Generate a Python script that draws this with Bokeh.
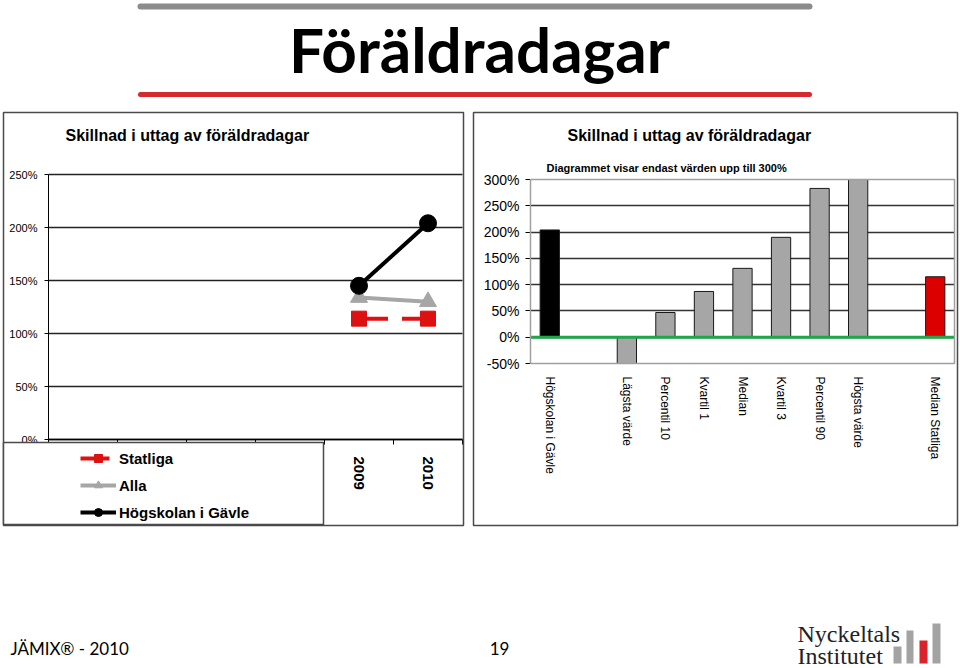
import numpy as np
from bokeh.plotting import figure
from bokeh.models import (Range1d, BoxAnnotation, Legend, LegendItem, Label,
                          NumeralTickFormatter, FixedTicker)
from bokeh.layouts import column, row
from bokeh.embed import file_html
from bokeh.resources import INLINE
from bokeh.core.properties import value

# ---------------- data ----------------
line_categories = ["", "", "", "", "2009", "2010"]
years = ["2009", "2010"]
statliga = [1.14, 1.14]
alla = [1.34, 1.30]
hogskolan = [1.45, 2.04]
left_ticks = [0.0, 0.5, 1.0, 1.5, 2.0, 2.5]

bar_categories = ["Högskolan i Gävle", "", "Lägsta värde", "Percentil 10", "Kvartil 1",
                  "Median", "Kvartil 3", "Percentil 90", "Högsta värde", "", "Median Statliga"]
bar_names = ["Högskolan i Gävle", "Lägsta värde", "Percentil 10", "Kvartil 1", "Median",
             "Kvartil 3", "Percentil 90", "Högsta värde", "Median Statliga"]
bar_values = [2.04, -0.60, 0.47, 0.87, 1.31, 1.90, 2.83, 3.00, 1.15]
right_ticks = [-0.5, 0.0, 0.5, 1.0, 1.5, 2.0, 2.5, 3.0]

# ---------------- styles ----------------
FONT = "Liberation Sans"
RED = "#dd1111"
GRAY = "#a6a6a6"
GREEN = "#1fa64a"
BOX = "#4a4a4a"
bar_colors = ["black", GRAY, GRAY, GRAY, GRAY, GRAY, GRAY, GRAY, "#dd0000"]
CANVAS = dict(left_units="canvas", right_units="canvas", top_units="canvas", bottom_units="canvas")


def axis_range(lo, hi, px_lo, px_hi, px_total):
    """Range whose values lo..hi land on pixels px_lo..px_hi of a px_total long frame."""
    k = (hi - lo) / (px_hi - px_lo)
    return Range1d(lo - px_lo * k, hi + (px_total - px_hi) * k)


def limit_grid(grid, lo, hi):
    try:
        grid.cross_bounds = (lo, hi)
    except Exception:
        pass


def blank(fig):
    fig.outline_line_color = None
    fig.grid.visible = False


# ---------------- header ----------------
hdr = figure(width=960, height=110, x_range=Range1d(0, 960), y_range=Range1d(110, 0),
             x_axis_location=None, y_axis_location=None, min_border=0,
             output_backend="svg", toolbar_location=None)
blank(hdr)
hdr.line([140, 809], [6, 6], line_width=6, line_cap="round", line_color="#8c8c8c")
hdr.line([140, 809], [94, 94], line_width=5, line_cap="round", line_color="#d42a2f")
hdr.text(x=[479], y=[48], text=["Föräldradagar"], text_font=value("Lato"),
         text_font_size="62px", text_font_style="bold", text_align="center",
         text_baseline="middle", text_color="black")

# ---------------- left line chart ----------------
LW, LH = 470, 420
n_left = len(line_categories)
lp = figure(width=LW, height=LH, min_border=0,
            x_range=axis_range(0, n_left, 48, 462, LW),
            y_range=axis_range(left_ticks[0], left_ticks[-1], 91, 356, LH),
            output_backend="svg", toolbar_location=None)
lp.outline_line_color = None
lp.xgrid.visible = False
lp.ygrid.ticker = FixedTicker(ticks=left_ticks)
lp.ygrid.grid_line_color = "#222222"
lp.ygrid.grid_line_width = 1.3
limit_grid(lp.ygrid, 0, n_left)

lp.yaxis.fixed_location = 0
lp.yaxis.bounds = (left_ticks[0], left_ticks[-1])
lp.yaxis.ticker = FixedTicker(ticks=left_ticks)
lp.yaxis.formatter = NumeralTickFormatter(format="0%")
lp.yaxis.major_label_text_font = FONT
lp.yaxis.major_label_text_font_size = "11px"
lp.yaxis.major_label_text_color = "black"
lp.yaxis.major_tick_out = 4
lp.yaxis.major_tick_in = 0
lp.yaxis.minor_tick_line_color = None
lp.yaxis.major_label_standoff = 7
lp.yaxis.axis_line_color = "black"
lp.yaxis.major_tick_line_color = "black"

left_label_pos = [i + 0.5 for i, c in enumerate(line_categories) if c]
lp.xaxis.fixed_location = left_ticks[0]
lp.xaxis.bounds = (0, n_left)
lp.xaxis.ticker = FixedTicker(ticks=left_label_pos, minor_ticks=list(range(n_left + 1)))
lp.xaxis.major_label_overrides = {i + 0.5: c for i, c in enumerate(line_categories) if c}
lp.xaxis.major_tick_line_color = None
lp.xaxis.minor_tick_out = 5
lp.xaxis.minor_tick_in = 0
lp.xaxis.minor_tick_line_color = "black"
lp.xaxis.major_label_orientation = "vertical"
lp.xaxis.major_label_text_font = FONT
lp.xaxis.major_label_text_font_size = "15px"
lp.xaxis.major_label_text_font_style = "bold"
lp.xaxis.major_label_text_color = "black"
lp.xaxis.major_label_standoff = 11
lp.xaxis.axis_line_color = "black"
lp.xaxis.axis_line_width = 1.3

year_x = [line_categories.index(y) + 0.5 for y in years]
r_stat_line = lp.line(year_x, statliga, line_color=RED, line_width=4, line_dash="29 14")
r_stat_pts = lp.scatter(year_x, statliga, marker="square", size=15, fill_color=RED, line_color=RED)
r_alla_line = lp.line(year_x, alla, line_color=GRAY, line_width=4)
r_alla_pts = lp.scatter(year_x, alla, marker="triangle", size=17, fill_color=GRAY, line_color=GRAY)
r_hig_line = lp.line(year_x, hogskolan, line_color="black", line_width=4)
r_hig_pts = lp.scatter(year_x, hogskolan, marker="circle", size=17, fill_color="black", line_color="black")

lp.add_layout(BoxAnnotation(left=3, right=463, top=2, bottom=415, **CANVAS,
                            fill_alpha=0, line_color=BOX, line_alpha=1, line_width=1.5))
lp.add_layout(BoxAnnotation(left=3, right=323, top=332, bottom=414, **CANVAS,
                            fill_color="white", fill_alpha=1, line_color=BOX, line_alpha=1,
                            line_width=1.5))
legend = Legend(items=[LegendItem(label="Statliga", renderers=[r_stat_line, r_stat_pts]),
                       LegendItem(label="Alla", renderers=[r_alla_line, r_alla_pts]),
                       LegendItem(label="Högskolan i Gävle", renderers=[r_hig_line, r_hig_pts])],
                location=(80, 8), padding=0, margin=0, spacing=7,
                glyph_width=36, glyph_height=20, label_standoff=3, label_height=20,
                label_text_font=FONT, label_text_font_size="15px", label_text_font_style="bold",
                label_text_color="black", border_line_color=None, background_fill_alpha=0)
lp.add_layout(legend)
lp.add_layout(Label(x=65, y=25, x_units="canvas", y_units="canvas",
                    text="Skillnad i uttag av föräldradagar", text_font=FONT, text_color="black",
                    text_font_size="16px", text_font_style="bold", text_baseline="middle"))

# ---------------- right bar chart ----------------
RW, RH = 490, 420
n_right = len(bar_categories)
x_lo, x_hi = -0.5, n_right - 0.5
y_lo, y_hi = right_ticks[0], right_ticks[-1]
rp = figure(width=RW, height=RH, min_border=0,
            x_range=axis_range(x_lo, x_hi, 60, 484, RW),
            y_range=axis_range(y_lo, y_hi, 167, 351, RH),
            output_backend="svg", toolbar_location=None)
rp.outline_line_color = None
rp.xgrid.visible = False
rp.ygrid.ticker = FixedTicker(ticks=right_ticks[1:-1])
rp.ygrid.grid_line_color = "#333333"
rp.ygrid.grid_line_width = 1.4
limit_grid(rp.ygrid, x_lo, x_hi)

rp.yaxis.fixed_location = x_lo
rp.yaxis.bounds = (y_lo, y_hi)
rp.yaxis.ticker = FixedTicker(ticks=right_ticks)
rp.yaxis.formatter = NumeralTickFormatter(format="0%")
rp.yaxis.major_label_text_font = FONT
rp.yaxis.major_label_text_font_size = "14px"
rp.yaxis.major_label_text_color = "black"
rp.yaxis.major_tick_out = 5
rp.yaxis.major_tick_in = 0
rp.yaxis.minor_tick_line_color = None
rp.yaxis.major_label_standoff = 6
rp.yaxis.axis_line_color = "black"
rp.yaxis.major_tick_line_color = "black"

rp.xaxis.fixed_location = y_lo
rp.xaxis.bounds = (x_lo, x_hi)
rp.xaxis.ticker = FixedTicker(ticks=[i for i, c in enumerate(bar_categories) if c])
rp.xaxis.major_label_overrides = {i: c for i, c in enumerate(bar_categories) if c}
rp.xaxis.axis_line_color = None
rp.xaxis.major_tick_line_color = None
rp.xaxis.minor_tick_line_color = None
rp.xaxis.major_label_orientation = "vertical"
rp.xaxis.major_label_text_font = FONT
rp.xaxis.major_label_text_font_size = "12px"
rp.xaxis.major_label_text_color = "black"
rp.xaxis.major_label_standoff = 7

bar_x = [bar_categories.index(n) for n in bar_names]
shown = np.clip(bar_values, y_lo, y_hi)   # the chart only shows values inside its axis
rp.vbar(x=bar_x, top=shown, width=0.5, fill_color=bar_colors,
        line_color="#1a1a1a", line_width=1)
rp.segment(x0=[x_lo], x1=[x_hi], y0=[0], y1=[0], line_color=GREEN, line_width=3)
rp.add_layout(BoxAnnotation(left=x_lo, right=x_hi, top=y_hi, bottom=y_lo,
                            fill_alpha=0, line_color="#a0a0a0", line_alpha=1, line_width=1.5))
rp.add_layout(BoxAnnotation(left=3, right=487, top=2, bottom=415, **CANVAS,
                            fill_alpha=0, line_color=BOX, line_alpha=1, line_width=1.5))
rp.add_layout(Label(x=97, y=25, x_units="canvas", y_units="canvas",
                    text="Skillnad i uttag av föräldradagar", text_font=FONT, text_color="black",
                    text_font_size="16px", text_font_style="bold", text_baseline="middle"))
rp.add_layout(Label(x=76, y=57, x_units="canvas", y_units="canvas",
                    text="Diagrammet visar endast värden upp till 300%", text_font=FONT,
                    text_color="black", text_font_size="11px", text_font_style="bold",
                    text_baseline="middle"))

# ---------------- footer ----------------
ft = figure(width=960, height=138, x_range=Range1d(0, 960), y_range=Range1d(138, 0),
            x_axis_location=None, y_axis_location=None, min_border=0,
            output_backend="svg", toolbar_location=None)
blank(ft)
ft.text(x=[10], y=[118], text=["JÄMIX® - 2010"], text_font=value("Lato"), text_font_size="17px",
        text_align="left", text_baseline="middle", text_color="black")
ft.text(x=[499], y=[118], text=["19"], text_font=value("Lato"), text_font_size="17px",
        text_align="center", text_baseline="middle", text_color="black")
ft.text(x=[797, 797], y=[103, 125], text=["Nyckeltals", "Institutet"],
        text_font=value("Liberation Serif"), text_font_size="24px",
        text_align="left", text_baseline="middle", text_color="#222222")
ft.quad(left=[893, 906, 919, 932], right=[901, 913, 927, 940], top=[116, 100, 110, 93],
        bottom=[133, 133, 133, 133], fill_color=["#a3a3a3", "#a3a3a3", "#d9232d", "#a3a3a3"],
        line_color=None)

layout = column(hdr, row(lp, rp), ft)
open("out.html", "w").write(file_html(layout, INLINE))
